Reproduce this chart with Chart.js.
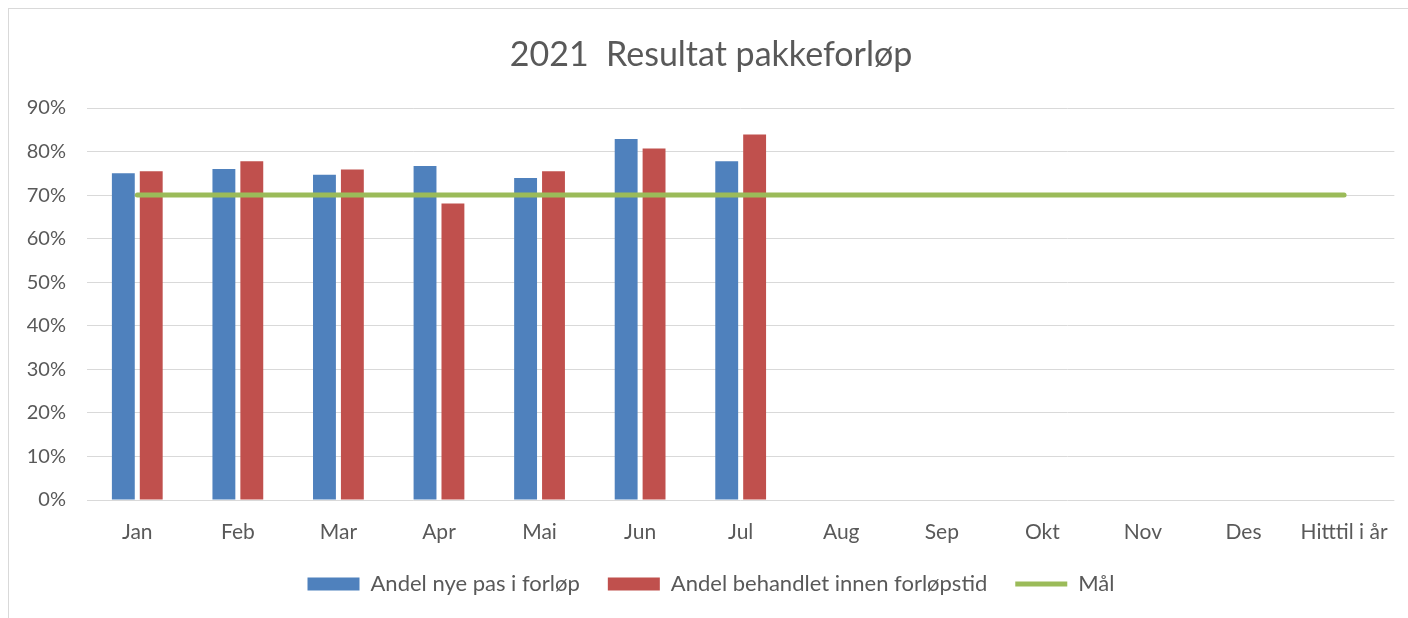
<!DOCTYPE html>
<html>
<head>
<meta charset="utf-8">
<script src="https://cdn.jsdelivr.net/npm/chart.js@4"></script>
<style>
  html, body { margin: 0; padding: 0; background: #ffffff; }
  #frame { position: absolute; left: 8px; top: 8px; width: 1400px; height: 610px;
           border-left: 1px solid #d9d9d9; border-top: 1px solid #d9d9d9; box-sizing: border-box; }
  #wrap { position: absolute; left: 0; top: 0; width: 1399px; height: 609px; }
</style>
</head>
<body>
<div id="frame"><div id="wrap"><canvas id="c"></canvas></div></div>
<script>
const categories = ['Jan','Feb','Mar','Apr','Mai','Jun','Jul','Aug','Sep','Okt','Nov','Des','Hitttil i år'];
const andelNyePas = [0.750, 0.760, 0.747, 0.767, 0.739, 0.829, 0.778, null, null, null, null, null, null];
const andelBehandlet = [0.755, 0.778, 0.759, 0.681, 0.755, 0.807, 0.839, null, null, null, null, null, null];
const maal = [0.70, 0.70, 0.70, 0.70, 0.70, 0.70, 0.70, 0.70, 0.70, 0.70, 0.70, 0.70, 0.70];
const yTicks = [0, 0.1, 0.2, 0.3, 0.4, 0.5, 0.6, 0.7, 0.8, 0.9];
const legendOrder = ['Andel nye pas i forløp', 'Andel behandlet innen forløpstid', 'Mål'];

const FONT = 'Lato, "Open Sans", sans-serif';
const TXT = '#595959';

new Chart(document.getElementById('c'), {
  type: 'bar',
  data: {
    labels: categories,
    datasets: [
      { type: 'line', label: 'Mål', data: maal, borderColor: '#9BBB59', backgroundColor: '#9BBB59',
        borderWidth: 5, pointRadius: 0, borderCapStyle: 'round', order: 0, pointStyle: 'line' },
      { label: 'Andel nye pas i forløp', data: andelNyePas, backgroundColor: '#4F81BD', order: 1, pointStyle: 'rect' },
      { label: 'Andel behandlet innen forløpstid', data: andelBehandlet, backgroundColor: '#C0504D', order: 2, pointStyle: 'rect' }
    ]
  },
  options: {
    responsive: true,
    maintainAspectRatio: false,
    animation: false,
    datasets: { bar: { categoryPercentage: 0.555, barPercentage: 0.82 } },
    layout: { padding: { left: 16, right: 11, top: 0, bottom: 13 } },
    scales: {
      x: {
        grid: { display: false, drawTicks: false },
        border: { display: false },
        ticks: { color: TXT, font: { family: FONT, size: 21 }, padding: 20, maxRotation: 0 },
        afterFit: (s) => { s.height = 45; }
      },
      y: {
        min: 0, max: 0.9,
        afterBuildTicks: (s) => { s.ticks = yTicks.map(v => ({ value: v })); },
        grid: { color: '#d9d9d9', lineWidth: 1, drawTicks: false },
        border: { display: false },
        ticks: { color: TXT, font: { family: FONT, size: 20 }, padding: 21,
                 callback: (v) => Math.round(v * 100) + '%' },
        afterFit: (s) => { s.width = 62; }
      }
    },
    plugins: {
      title: { display: true, text: '2021  Resultat pakkeforløp', color: TXT,
               font: { family: FONT, size: 34, weight: 'normal' }, padding: { top: 25.6, bottom: 32.6 } },
      legend: {
        position: 'bottom',
        labels: {
          color: TXT, font: { family: FONT, size: 22 }, usePointStyle: true, pointStyleWidth: 52,
          boxHeight: 13, padding: 28,
          sort: (a, b) => legendOrder.indexOf(a.text) - legendOrder.indexOf(b.text)
        }
      },
      tooltip: { enabled: false }
    }
  }
});
</script>
</body>
</html>
